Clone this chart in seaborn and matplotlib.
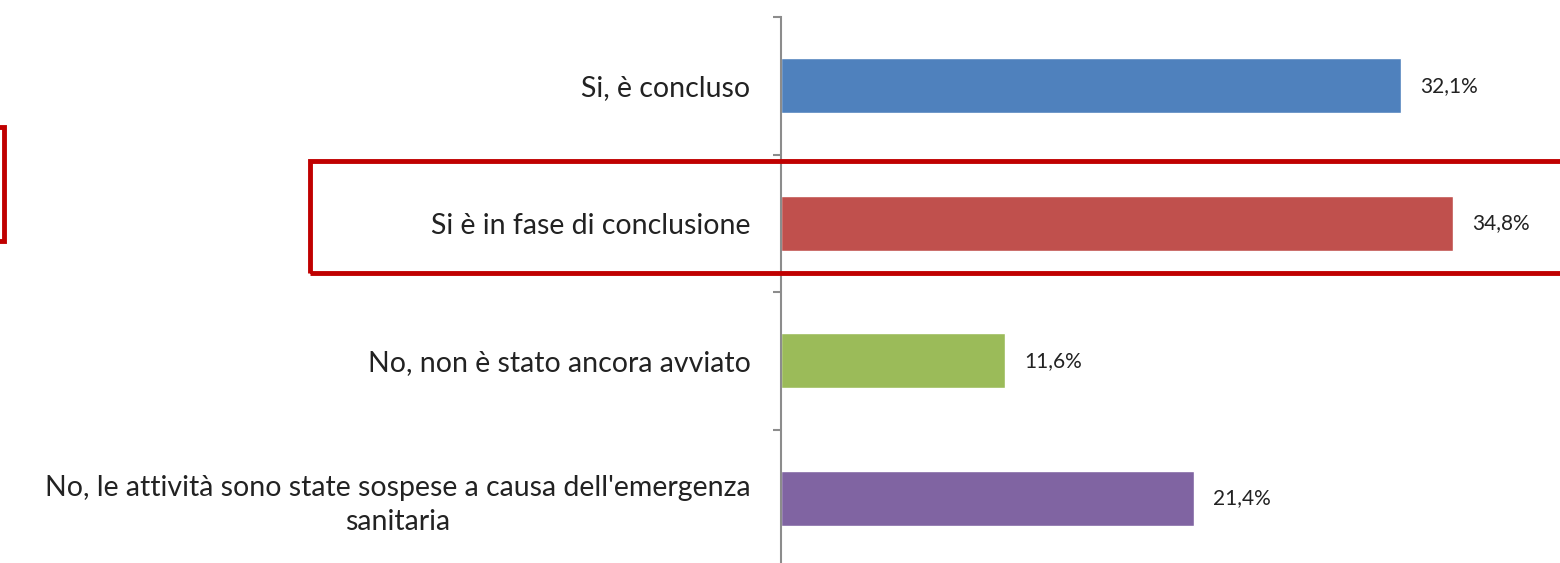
import matplotlib
matplotlib.use("Agg")
import matplotlib.pyplot as plt
import seaborn as sns
import pandas as pd
from matplotlib.patches import Rectangle

categories = ["Si, è concluso", "Si è in fase di conclusione",
              "No, non è stato ancora avviato",
              "No, le attività sono state sospese a causa dell'emergenza\nsanitaria"]
values = [32.1, 34.8, 11.6, 21.4]
value_labels = ["32,1%", "34,8%", "11,6%", "21,4%"]
colors = ["#4F81BD", "#C0504D", "#9BBB59", "#8064A2"]

sns.set_theme(style="white")
plt.rcParams['font.family'] = ['Lato', 'DejaVu Sans']

W, H = 1560, 563
fig = plt.figure(figsize=(W / 100, H / 100), dpi=100)
left_px, top_px, bot_px, right_px = 781, 17, 567, 1553
ax = fig.add_axes([left_px / W, 1 - bot_px / H, (right_px - left_px) / W, (bot_px - top_px) / H])

df = pd.DataFrame({"cat": categories, "val": values})
sns.barplot(data=df, x="val", y="cat", hue="cat", palette=colors, legend=False,
            orient="h", width=0.4, ax=ax, saturation=1)

ax.set_xlim(0, 40)
ax.set_ylim(3.5, -0.5)
ax.set_xlabel("")
ax.set_ylabel("")
ax.set_xticks([])
for s in ["top", "right", "bottom"]:
    ax.spines[s].set_visible(False)
ax.spines["left"].set_color("#8C8C8C")
ax.spines["left"].set_linewidth(1.5)

ax.set_yticks(range(len(categories)))
ax.set_yticklabels(categories, fontsize=20.5, color="#222222")
for t in ax.get_yticklabels():
    t.set_multialignment("center")
    t.set_linespacing(1.4)
ax.set_yticks([-0.5, 0.5, 1.5, 2.5, 3.5], minor=True)
ax.tick_params(axis="y", which="major", length=0, pad=22)
ax.tick_params(axis="y", which="minor", length=6, width=1.5, color="#8C8C8C", left=True)

for i, (v, lab) in enumerate(zip(values, value_labels)):
    ax.annotate(lab, xy=(v, i), xytext=(14, 0), textcoords="offset points",
                ha="left", va="center", fontsize=15, color="#222222")

# red highlight boxes (annotations present in the reference)
fig.patches.append(Rectangle((310 / W, 1 - 273 / H), (1600 - 310) / W, (273 - 161) / H,
                             transform=fig.transFigure, fill=False, edgecolor="#C00000",
                             linewidth=3.5, zorder=10))
fig.patches.append(Rectangle((-100 / W, 1 - 241 / H), (104) / W, (241 - 127) / H,
                             transform=fig.transFigure, fill=False, edgecolor="#C00000",
                             linewidth=3.5, zorder=10))

fig.savefig("out.png", dpi=100, facecolor="white")
